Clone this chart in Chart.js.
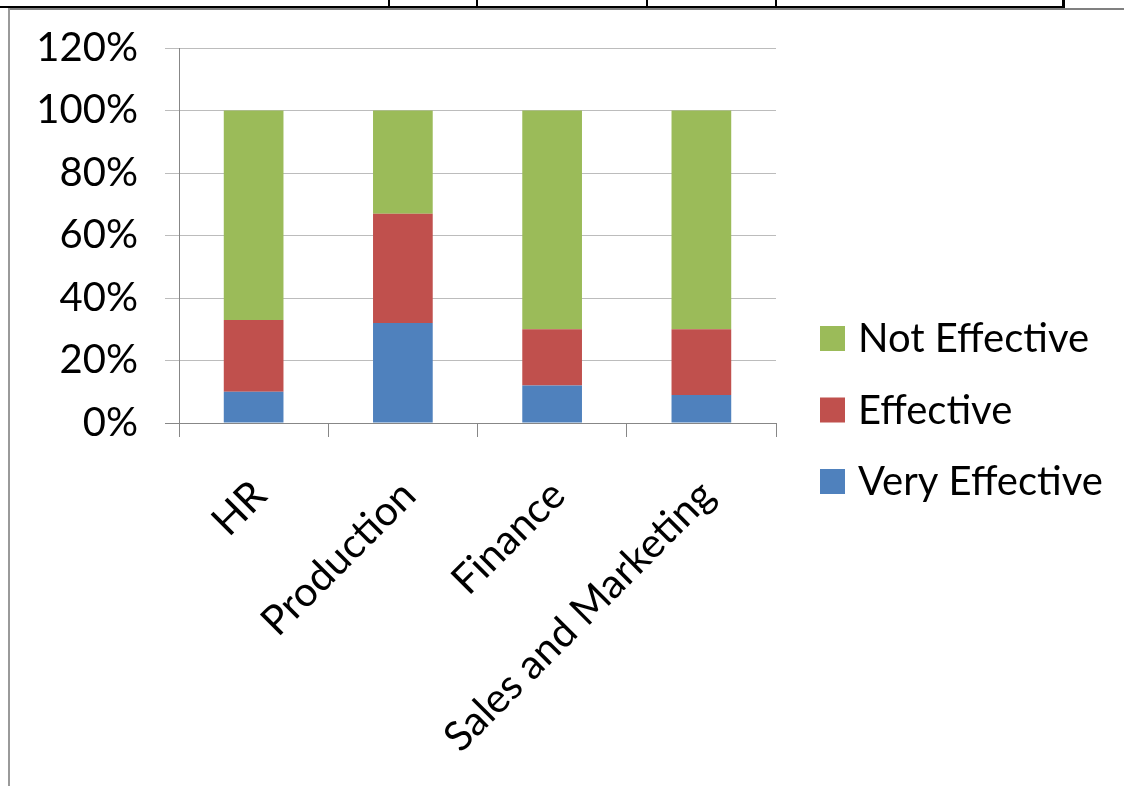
<!DOCTYPE html>
<html>
<head>
<meta charset="utf-8">
<script src="https://cdn.jsdelivr.net/npm/chart.js@4/dist/chart.umd.min.js"></script>
<style>
  html, body { margin: 0; padding: 0; background: #ffffff; }
  #wrap { position: relative; width: 1124px; height: 786px; overflow: hidden; }
  #chart { position: absolute; left: 0; top: 0; }
  .rule { position: absolute; }
</style>
</head>
<body>
<div id="wrap">
  <canvas id="chart" width="1124" height="786"></canvas>
  <!-- table cell borders around the chart -->
  <div class="rule" style="left:0;top:6px;width:1065px;height:2px;background:#000;"></div>
  <div class="rule" style="left:388px;top:0;width:2px;height:7px;background:#000;"></div>
  <div class="rule" style="left:476px;top:0;width:2px;height:7px;background:#000;"></div>
  <div class="rule" style="left:646px;top:0;width:2px;height:7px;background:#000;"></div>
  <div class="rule" style="left:775px;top:0;width:2px;height:7px;background:#000;"></div>
  <div class="rule" style="left:1062px;top:0;width:3px;height:8px;background:#000;"></div>
  <div class="rule" style="left:8px;top:8px;width:1116px;height:2px;background:#808080;"></div>
  <div class="rule" style="left:8px;top:8px;width:2px;height:778px;background:#9a9a9a;"></div>
</div>
<script>
const categories = ['HR', 'Production', 'Finance', 'Sales and Marketing'];
const veryEffective = [10, 32, 12, 9];
const effective = [23, 35, 18, 21];
const notEffective = [67, 33, 70, 70];
const yTicks = [0, 20, 40, 60, 80, 100, 120];

const FONT = 'Lato, "Open Sans", sans-serif';

// Legend drawn to the right of the plot, top entry = top of the stack
const sideLegend = {
  id: 'sideLegend',
  afterDraw(chart) {
    const ctx = chart.ctx;
    const sets = chart.data.datasets.slice().reverse();
    const boxX = 820, box = 25, textX = 858, firstY = 338.5, step = 71.5;
    ctx.save();
    ctx.font = '40px ' + FONT;
    ctx.textBaseline = 'middle';
    ctx.textAlign = 'left';
    sets.forEach((ds, i) => {
      const cy = firstY + i * step;
      ctx.fillStyle = ds.backgroundColor;
      ctx.fillRect(boxX, cy - box / 2, box, box);
      ctx.fillStyle = '#000';
      ctx.fillText(ds.label, textX, cy + 1);
    });
    ctx.restore();
  }
};

new Chart(document.getElementById('chart'), {
  type: 'bar',
  data: {
    labels: categories,
    datasets: [
      { label: 'Very Effective', data: veryEffective, backgroundColor: '#4F81BD' },
      { label: 'Effective', data: effective, backgroundColor: '#C0504D' },
      { label: 'Not Effective', data: notEffective, backgroundColor: '#9BBB59' }
    ]
  },
  options: {
    responsive: false,
    devicePixelRatio: 1,
    animation: false,
    layout: { padding: { left: 0, top: 48, right: 348, bottom: 0 } },
    datasets: { bar: { categoryPercentage: 1, barPercentage: 0.4, borderWidth: 0 } },
    plugins: { legend: { display: false }, tooltip: { enabled: false } },
    scales: {
      x: {
        stacked: true,
        offset: true,
        afterFit(scale) { scale.height = 786 - 423; },
        grid: {
          offset: true,
          drawOnChartArea: false,
          drawTicks: true,
          tickLength: 14,
          color: '#878787',
          lineWidth: 1
        },
        border: { display: true, color: '#878787', width: 1 },
        ticks: {
          autoSkip: false,
          minRotation: 45,
          maxRotation: 45,
          padding: 34,
          labelOffset: 6,
          color: '#000',
          font: { family: FONT, size: 41 }
        }
      },
      y: {
        stacked: true,
        min: 0,
        max: 120,
        afterFit(scale) {
          scale.width = 179;
          // only half a label of overhang is needed above the top tick
          scale.paddingTop = 24;
          scale.paddingBottom = 24;
        },
        afterBuildTicks(scale) { scale.ticks = yTicks.map(v => ({ value: v })); },
        grid: {
          drawTicks: true,
          tickLength: 14,
          color: ctx => ctx.tick && ctx.tick.value === 0 ? '#878787' : '#bcbcbc',
          lineWidth: 1
        },
        border: { display: true, color: '#878787', width: 1 },
        ticks: {
          padding: 27,
          color: '#000',
          font: { family: FONT, size: 40 },
          callback: v => v + '%'
        }
      }
    }
  },
  plugins: [sideLegend]
});
</script>
</body>
</html>
